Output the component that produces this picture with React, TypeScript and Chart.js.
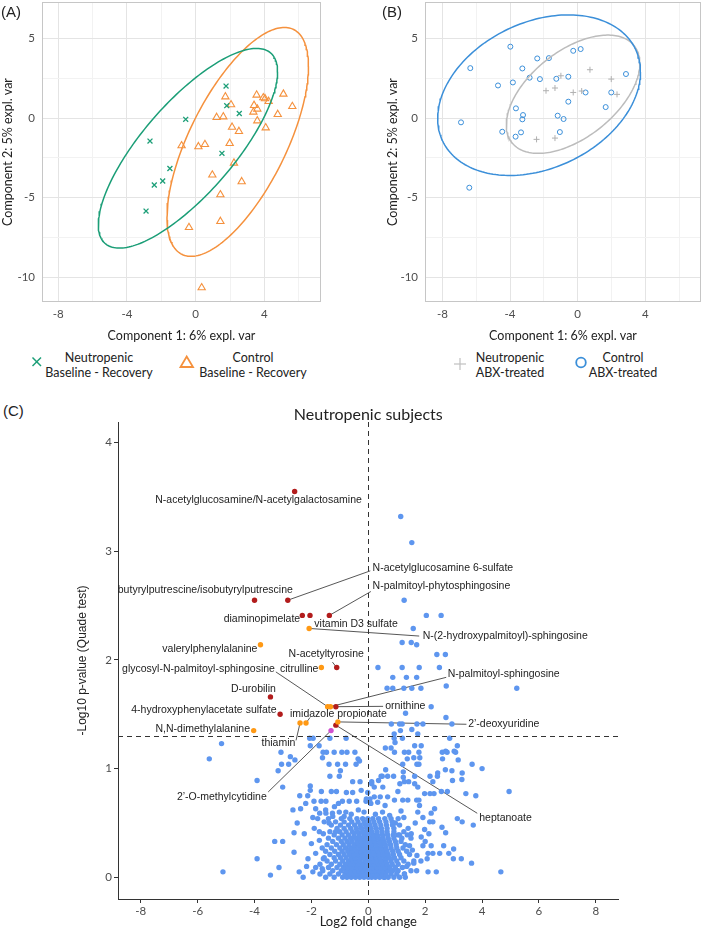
import React, { useEffect, useRef } from 'react';
import { Chart, registerables } from 'chart.js';
Chart.register(...registerables);

// ---------------- colours ----------------
const GREEN = '#1b9e77';
const ORANGE = '#f5913d';
const BLUE = '#3b8fd9';
const GREY = '#bcbcbc';
const DOT_BLUE = '#5e96ef';
const DOT_RED = '#b21c1c';
const DOT_ORANGE = '#ff9914';
const DOT_VIOLET = '#d052d0';

// ---------------- panel A (Baseline - Recovery) ----------------
const neutroBaseX = [1.77, 1.81, -0.58, 2.54, -2.66, 1.53, -1.5, -1.92, -2.41, -2.89];
const neutroBaseY = [2.01, 0.78, -0.08, 0.29, -1.45, -2.22, -3.17, -3.96, -4.21, -5.85];
const ctrlBaseX = [3.55, 5.11, 3.94, 4.04, 4.25, 1.73, 2.06, 5.63, 3.4, 3.59, 3.36, 4.78, 1.22, 1.61, 3.59, 2.12, 4.08, 2.52, -0.82, 0.16, 0.54, 1.98, 2.23, 0.97, 2.68, 1.44, 1.44, -0.39, 0.35];
const ctrlBaseY = [1.45, 1.51, 1.28, 1.22, 1.05, 1.34, 0.84, 0.73, 0.8, 0.57, 0.38, 0.23, 0.04, 0.08, -0.17, -0.57, -0.61, -0.84, -1.74, -1.8, -1.66, -1.59, -2.83, -3.58, -4.0, -4.82, -6.5, -6.88, -10.67];
// ellipse: centre x, centre y, sd x, sd y, correlation
const ellipseNeutroBase = [-0.45, -1.9, 5.22, 6.28, 0.766];
const ellipseCtrlBase = [2.45, -1.5, 4.12, 7.2, 0.66];

// ---------------- panel B (ABX-treated) ----------------
const ctrlAbxX = [-3.98, -6.35, -2.39, -1.7, -0.26, 0.18, -3.27, -3.83, -4.71, -2.84, -2.23, -1.26, -0.55, 2.86, 0.47, 1.99, -0.55, 1.66, -3.65, -3.23, -3.27, -1.18, -0.83, -6.9, -4.46, -3.35, -3.67, -1.05, -6.41];
const ctrlAbxY = [4.49, 3.14, 3.75, 3.77, 4.23, 4.34, 3.12, 2.24, 2.05, 2.54, 2.45, 2.47, 2.6, 2.77, 1.61, 1.61, 1.03, 0.69, 0.61, 0.19, -0.08, 0.15, -0.06, -0.27, -0.86, -0.9, -1.17, -0.88, -4.38];
const neutroAbxX = [-0.99, 0.73, -1.87, -1.34, -0.26, 0.24, 1.99, 2.33, -2.43, -1.34];
const neutroAbxY = [2.66, 3.04, 1.72, 1.89, 1.61, 1.7, 2.45, 1.49, -1.34, -1.26];
const ellipseCtrlAbx = [-2.28, 1.44, 6.0, 5.05, 0.29];
const ellipseNeutroAbx = [-0.27, 1.5, 3.95, 3.72, 0.52];

const pcaXTitle = 'Component 1: 6% expl. var';
const pcaYTitle = 'Component 2: 5% expl. var';

// ---------------- panel C (volcano) ----------------
const volcanoTitleText = 'Neutropenic subjects';
const pThreshold = 0.05;

const redPoints = [[-2.59, 3.55], [-4.0, 2.55], [-2.83, 2.55], [-2.32, 2.41], [-2.05, 2.41], [-1.37, 2.41], [-1.11, 1.93], [-3.44, 1.66], [-3.1, 1.5], [-1.14, 1.57], [-1.14, 1.4]];
const orangePoints = [[-2.08, 2.29], [-3.79, 2.14], [-1.65, 1.93], [-1.43, 1.57], [-1.33, 1.57], [-4.03, 1.35], [-2.4, 1.42], [-2.19, 1.42], [-1.07, 1.43]];
const violetPoints = [[-1.31, 1.35]];

const bluePoints = [
  [1.14, 3.32], [1.53, 3.08], [1.26, 2.55], [2.04, 2.41], [2.56, 2.41], [1.58, 2.29], [1.19, 2.16], [1.51, 2.16], [1.7, 2.14], [2.41, 2.05], [2.71, 2.05],
  [0.34, 1.93], [1.19, 1.93], [1.79, 1.93], [2.5, 1.93], [0.86, 1.84], [1.34, 1.84], [1.7, 1.84], [0.66, 1.74], [0.86, 1.74], [1.25, 1.74], [1.53, 1.74],
  [1.85, 1.74], [2.74, 1.76], [5.22, 1.74], [2.21, 1.57], [1.31, 1.51], [2.73, 1.47], [0.81, 1.41], [1.1, 1.41], [1.19, 1.41], [1.71, 1.41], [1.92, 1.41],
  [2.94, 1.41], [1.13, 1.35], [1.53, 1.36], [1.74, 1.32], [0.91, 1.32], [0.91, 1.28], [1.2, 1.28], [2.86, 1.28],
  [0.94, 1.24], [1.63, 1.21], [1.86, 1.21], [3.13, 1.21], [0.6, 1.19], [0.8, 1.19], [0.92, 1.15], [1.27, 1.15], [1.42, 1.15], [1.78, 1.15], [2.6, 1.15],
  [2.77, 1.15], [3.07, 1.15], [1.37, 1.09], [1.6, 1.1], [1.81, 1.1], [2.61, 1.09], [3.16, 1.08], [1.21, 1.04], [1.71, 1.04], [1.78, 1.04], [3.65, 1.04],
  [0.61, 0.99], [1.23, 0.97], [2.71, 0.99], [2.94, 0.98], [4.0, 1.0], [3.3, 0.96], [0.49, 0.93], [0.68, 0.93], [0.89, 0.93], [1.23, 0.92], [1.63, 0.93],
  [2.17, 0.93], [2.43, 0.93], [0.36, 0.89], [1.11, 0.86], [1.27, 0.88], [1.42, 0.88], [1.63, 0.86], [2.27, 0.88], [2.96, 0.89], [0.12, 0.86], [0.21, 0.83],
  [0.51, 0.83], [1.04, 0.79], [1.74, 0.83], [1.98, 0.77], [2.17, 0.77], [2.31, 0.77], [2.57, 0.79], [2.78, 0.79], [3.43, 0.77], [3.78, 0.75], [4.95, 0.79],
  [-0.02, 0.78], [0.21, 0.74], [0.42, 0.74], [0.68, 0.74], [1.21, 0.71], [1.39, 0.71], [1.7, 0.71], [1.78, 0.71], [0.92, 0.71], [0.33, 0.69], [0.09, 0.68],
  [0.59, 0.66], [1.8, 0.66], [2.33, 0.63], [1.15, 0.61], [1.74, 0.6], [2.21, 0.59], [1.92, 0.55], [2.16, 0.51], [2.27, 0.51], [3.13, 0.54], [3.3, 0.51],
  [3.69, 0.48], [2.59, 0.46], [1.98, 0.44], [2.72, 0.41], [2.13, 0.4], [1.86, 0.37], [1.37, 0.39], [1.51, 0.4], [1.45, 0.29], [1.92, 0.29], [2.21, 0.29],
  [2.65, 0.29], [3.0, 0.26], [1.71, 0.2], [2.1, 0.22], [2.27, 0.22], [2.51, 0.22], [2.83, 0.22], [2.07, 0.17], [1.6, 0.13], [2.99, 0.17], [3.27, 0.17],
  [3.63, 0.13], [2.1, 0.05], [2.39, 0.05], [4.66, 0.05], [1.27, 0.03], [1.04, 0.06], [0.57, 0.0], [3.02, 1.16], [2.72, 1.16], [3.29, 0.9], [2.44, 0.96],
  [-5.16, 1.23], [-5.59, 1.09], [-3.91, 0.89], [-3.07, 1.15], [-2.74, 1.11], [-3.05, 1.04], [-2.8, 1.04], [-2.58, 1.08], [-3.17, 0.98], [-3.01, 0.83],
  [-2.06, 1.28], [-1.94, 1.28], [-1.35, 1.28], [-0.78, 1.28], [-2.04, 1.21], [-1.73, 1.21], [-1.59, 1.15], [-1.47, 1.15], [-1.2, 1.15], [-0.93, 1.15],
  [-0.75, 1.15], [-0.47, 1.15], [-1.61, 1.1], [-0.36, 1.09], [-1.38, 1.04], [-1.08, 1.04], [-0.8, 1.04], [-0.43, 1.04], [-0.98, 0.98], [-1.35, 0.93],
  [-1.02, 0.93], [-0.55, 0.88], [-0.29, 0.88], [-2.04, 0.84], [-2.04, 0.8], [-1.65, 0.79], [-1.3, 0.79], [-1.12, 0.79], [-0.77, 0.78], [-0.55, 0.78],
  [-2.41, 0.75], [-2.13, 0.75], [-1.91, 0.7], [-1.66, 0.7], [-1.49, 0.7], [-2.2, 0.68], [-1.19, 0.65], [-0.91, 0.7], [-0.67, 0.7], [-0.41, 0.7],
  [-0.08, 0.7], [-2.38, 0.63], [-1.85, 0.63], [-1.71, 0.59], [-1.49, 0.59], [-1.26, 0.59], [-1.02, 0.6], [-0.79, 0.6], [-1.78, 0.54], [-1.55, 0.51],
  [-2.61, 0.41], [-3.29, 0.33], [-3.01, 0.33], [-1.72, 0.42], [-1.72, 0.34], [-2.61, 0.23], [-3.91, 0.17], [-2.12, 0.17], [-1.58, 0.17], [-3.14, 0.09],
  [-2.17, 0.1], [-1.85, 0.09], [-5.11, 0.05], [-3.44, 0.02], [-2.43, 0.05], [-2.29, 0.0], [-0.31, 1.07], [-0.07, 0.72], [0.06, 0.72], [0.12, 0.88],
  [-0.6, 0.58], [-0.35, 0.62], [-0.15, 0.6], [0.25, 0.58], [0.5, 0.6], [0.75, 0.57], [-1.05, 0.68], [-0.25, 0.8], [0.45, 0.93],
  [-1.95, 0.05], [-1.7, 0.03], [-1.85, 0.22], [-1.62, 0.27], [-2.0, 0.31], [-1.9, 0.45], [-1.58, 0.4], [-1.38, 0.5], [-1.62, 0.08], [-2.25, 0.4],
  [-1.95, 0.55], [-1.5, 0.62], [-1.25, 0.56], [-2.5, 0.5], [-2.65, 0.62], [1.35, 0.1], [1.55, 0.25], [1.7, 0.06], [1.4, 0.45], [1.65, 0.5],
  [1.25, 0.55], [1.85, 0.15], [2.0, 0.33], [0.95, 0.5], [-0.85, 0.56], [1.05, 0.39], [-1.15, 0.42],
];

// dense core of non-significant metabolites, row by row
const coreRowY = [0.0, 0.03, 0.06, 0.09, 0.12, 0.15, 0.18, 0.21, 0.24, 0.27, 0.3, 0.33, 0.36, 0.39, 0.42, 0.45, 0.48, 0.51, 0.54];
const coreRowX = [
  [-1.5, -1.2, -0.9, -0.75, -0.6, -0.45, -0.3, -0.15, 0.0, 0.12, 0.25, 0.4, 0.55, 0.7, 0.9, 1.1, 1.3],
  [-1.35, -1.05, -0.82, -0.68, -0.52, -0.38, -0.22, -0.08, 0.06, 0.18, 0.32, 0.48, 0.62, 0.8, 1.0, 1.27],
  [-1.6, -1.25, -0.95, -0.78, -0.62, -0.47, -0.33, -0.2, -0.05, 0.1, 0.24, 0.38, 0.52, 0.68, 0.85, 1.04, 1.5],
  [-1.4, -1.1, -0.88, -0.72, -0.56, -0.4, -0.27, -0.12, 0.02, 0.15, 0.3, 0.45, 0.6, 0.76, 0.95, 1.2],
  [-1.7, -1.3, -1.0, -0.8, -0.64, -0.5, -0.35, -0.18, -0.04, 0.1, 0.22, 0.36, 0.5, 0.66, 0.84, 1.05, 1.4],
  [-1.45, -1.15, -0.9, -0.7, -0.55, -0.42, -0.28, -0.1, 0.05, 0.18, 0.32, 0.46, 0.62, 0.8, 1.0, 1.25, 1.6],
  [-1.55, -1.2, -0.98, -0.78, -0.6, -0.46, -0.3, -0.16, 0.0, 0.14, 0.28, 0.42, 0.58, 0.74, 0.92, 1.15],
  [-1.35, -1.05, -0.85, -0.66, -0.5, -0.36, -0.22, -0.06, 0.08, 0.22, 0.38, 0.54, 0.7, 0.88, 1.1, 1.45],
  [-1.5, -1.18, -0.92, -0.72, -0.56, -0.4, -0.25, -0.1, 0.04, 0.18, 0.34, 0.5, 0.66, 0.86, 1.05, 1.35],
  [-1.3, -1.0, -0.8, -0.62, -0.46, -0.3, -0.15, 0.0, 0.15, 0.3, 0.46, 0.62, 0.8, 1.0, 1.22],
  [-1.45, -1.12, -0.88, -0.68, -0.5, -0.34, -0.18, -0.02, 0.12, 0.28, 0.44, 0.6, 0.78, 0.98, 1.3],
  [-1.25, -0.95, -0.75, -0.58, -0.4, -0.24, -0.08, 0.08, 0.24, 0.4, 0.56, 0.74, 0.95, 1.15],
  [-1.4, -1.05, -0.82, -0.62, -0.45, -0.28, -0.12, 0.05, 0.2, 0.36, 0.52, 0.7, 0.9, 1.18, 1.5],
  [-1.2, -0.92, -0.7, -0.5, -0.32, -0.15, 0.0, 0.16, 0.32, 0.5, 0.68, 0.88, 1.1],
  [-1.35, -1.0, -0.78, -0.56, -0.38, -0.2, -0.04, 0.12, 0.3, 0.48, 0.66, 0.9, 1.25],
  [-1.1, -0.85, -0.62, -0.42, -0.24, -0.06, 0.1, 0.28, 0.46, 0.66, 0.9],
  [-1.3, -0.98, -0.7, -0.48, -0.28, -0.1, 0.06, 0.24, 0.44, 0.64, 0.85, 1.1],
  [-1.15, -0.85, -0.58, -0.36, -0.15, 0.02, 0.2, 0.4, 0.62, 0.84],
  [-1.4, -0.95, -0.65, -0.4, -0.2, -0.02, 0.16, 0.36, 0.58, 0.8, 1.05],
];

const metaboliteLabels: [string, number, number, CanvasTextAlign][] = [
  ['N-acetylglucosamine/N-acetylgalactosamine', -3.86, 3.475, 'center'],
  ['butyrylputrescine/isobutyrylputrescine', -5.73, 2.64, 'center'],
  ['N-acetylglucosamine 6-sulfate', 0.15, 2.845, 'left'],
  ['N-palmitoyl-phytosphingosine', 0.15, 2.677, 'left'],
  ['diaminopimelate', -3.74, 2.38, 'center'],
  ['vitamin D3 sulfate', -0.43, 2.327, 'center'],
  ['N-(2-hydroxypalmitoyl)-sphingosine', 1.91, 2.22, 'left'],
  ['valerylphenylalanine', -5.57, 2.098, 'center'],
  ['N-acetyltyrosine', -1.48, 2.058, 'center'],
  ['glycosyl-N-palmitoyl-sphingosine', -5.97, 1.913, 'center'],
  ['citrulline', -2.43, 1.913, 'center'],
  ['N-palmitoyl-sphingosine', 2.79, 1.874, 'left'],
  ['D-urobilin', -4.04, 1.73, 'center'],
  ['ornithine', 1.3, 1.576, 'center'],
  ['4-hydroxyphenylacetate sulfate', -5.78, 1.536, 'center'],
  ['imidazole propionate', -1.05, 1.506, 'center'],
  ['2\u2019-deoxyuridine', 3.51, 1.408, 'left'],
  ['N,N-dimethylalanine', -5.82, 1.362, 'center'],
  ['thiamin', -3.16, 1.236, 'center'],
  ['2\u2019-O-methylcytidine', -5.15, 0.739, 'center'],
  ['heptanoate', 3.9, 0.549, 'left'],
];
const labelConnectors = [
  [-2.83, 2.55, 0.07, 2.82],
  [-1.37, 2.41, 0.09, 2.63],
  [-2.08, 2.29, 1.79, 2.22],
  [-1.11, 1.93, -1.26, 1.98],
  [-1.43, 1.57, -3.25, 1.89],
  [-1.33, 1.57, 2.74, 1.84],
  [-2.19, 1.42, -2.05, 1.47],
  [-1.14, 1.57, 0.52, 1.573],
  [-2.4, 1.42, -2.54, 1.26],
  [-1.07, 1.43, 3.45, 1.408],
  [-1.31, 1.35, -3.52, 0.785],
  [-1.14, 1.4, 3.83, 0.589],
];

// ---------------- helpers ----------------
const zip = (xs: number[], ys: number[]) => xs.map((x, i) => ({ x, y: ys[i] }));
const pairs = (p: number[][]) => p.map(([x, y]) => ({ x, y }));

function ellipsePoints(p: number[]) {
  const [cx, cy, sx, sy, r] = p;
  const s = Math.sqrt(1 - r * r);
  const pts: { x: number; y: number }[] = [];
  for (let i = 0; i <= 200; i++) {
    const t = (i / 200) * Math.PI * 2;
    pts.push({ x: cx + sx * Math.cos(t), y: cy + sy * (r * Math.cos(t) + s * Math.sin(t)) });
  }
  return pts;
}

const panelBorder = {
  id: 'panelBorder',
  afterDraw(chart: any) {
    const { ctx, chartArea: a } = chart;
    ctx.save();
    ctx.strokeStyle = '#c6c6c6';
    ctx.lineWidth = 1;
    ctx.strokeRect(a.left + 0.5, a.top + 0.5, a.right - a.left - 1, a.bottom - a.top - 1);
    ctx.restore();
  },
};

const TICK_FONT = { family: 'Lato, sans-serif', size: 11.5 };
const TITLE_FONT = { family: 'Lato, sans-serif', size: 12.5 };

const fixSize = (prop: 'width' | 'height', v: number) => (s: any) => {
  s[prop] = v;
  s.paddingTop = 0; s.paddingBottom = 0; s.paddingLeft = 0; s.paddingRight = 0;
};

function ellipseDataset(params: number[], color: string) {
  return {
    type: 'line' as const,
    data: ellipsePoints(params),
    showLine: true,
    borderColor: color,
    borderWidth: 1.5,
    pointRadius: 0,
    fill: false,
    tension: 0,
  };
}

function pcaConfig(datasets: any[], xMin: number, xMax: number, yAxisWidth: number, yTitlePad: number, rightPad: number) {
  return {
    type: 'scatter' as const,
    data: { datasets },
    options: {
      animation: false as const,
      responsive: false,
      events: [],
      layout: { autoPadding: false, padding: { top: 2, right: rightPad, bottom: 1, left: 0 } },
      plugins: { legend: { display: false }, tooltip: { enabled: false } },
      scales: {
        x: {
          type: 'linear' as const,
          min: xMin,
          max: xMax,
          afterFit: fixSize('height', 41),
          ticks: {
            stepSize: 2, includeBounds: false, autoSkip: false, maxRotation: 0, padding: 5,
            color: '#4d4d4d', font: TICK_FONT,
            callback: (v: any) => (Math.abs(v % 4) < 1e-9 ? String(v) : ''),
          },
          grid: {
            drawTicks: false,
            color: (c: any) => (c.tick && Math.abs(c.tick.value % 4) < 1e-9 ? '#e4e4e4' : '#f2f2f2'),
          },
          border: { display: false },
          title: { display: true, text: pcaXTitle, color: '#222', font: TITLE_FONT, padding: 0 },
        },
        y: {
          type: 'linear' as const,
          min: -11.57,
          max: 7.3,
          afterFit: fixSize('width', yAxisWidth),
          ticks: {
            stepSize: 2.5, includeBounds: false, autoSkip: false, padding: 7,
            color: '#4d4d4d', font: TICK_FONT,
            callback: (v: any) => (Math.abs(v % 5) < 1e-9 ? String(v) : ''),
          },
          grid: {
            drawTicks: false,
            color: (c: any) => (c.tick && Math.abs(c.tick.value % 5) < 1e-9 ? '#e4e4e4' : '#f2f2f2'),
          },
          border: { display: false },
          title: { display: true, text: pcaYTitle, color: '#222', font: TITLE_FONT, padding: { top: yTitlePad, bottom: 0 } },
        },
      },
    },
    plugins: [panelBorder],
  };
}

const volcanoDecor = {
  id: 'volcanoDecor',
  beforeDatasetsDraw(chart: any) {
    const { ctx, scales } = chart;
    const xs = scales.x, ys = scales.y;
    ctx.save();
    ctx.strokeStyle = '#444';
    ctx.lineWidth = 0.9;
    labelConnectors.forEach(([px, py, lx, ly]) => {
      ctx.beginPath();
      ctx.moveTo(xs.getPixelForValue(px), ys.getPixelForValue(py));
      ctx.lineTo(xs.getPixelForValue(lx), ys.getPixelForValue(ly));
      ctx.stroke();
    });
    ctx.restore();
  },
  afterDatasetsDraw(chart: any) {
    const { ctx, scales, chartArea: a } = chart;
    const xs = scales.x, ys = scales.y;
    ctx.save();
    ctx.strokeStyle = '#333';
    ctx.lineWidth = 1;
    ctx.setLineDash([5, 4]);
    const x0 = Math.round(xs.getPixelForValue(0)) + 0.5;
    ctx.beginPath(); ctx.moveTo(x0, a.top); ctx.lineTo(x0, a.bottom); ctx.stroke();
    const yT = Math.round(ys.getPixelForValue(-Math.log10(pThreshold))) + 0.5;
    ctx.beginPath(); ctx.moveTo(a.left, yT); ctx.lineTo(a.right, yT); ctx.stroke();
    ctx.setLineDash([]);
    ctx.font = '10.5px "Liberation Sans", Arial, sans-serif';
    ctx.fillStyle = '#222';
    ctx.textBaseline = 'middle';
    metaboliteLabels.forEach(([t, lx, ly, al]) => {
      ctx.textAlign = al;
      ctx.fillText(t, xs.getPixelForValue(lx), ys.getPixelForValue(ly));
    });
    ctx.font = '16px Lato, sans-serif';
    ctx.textAlign = 'center';
    ctx.fillText(volcanoTitleText, (a.left + a.right) / 2, 20);
    ctx.restore();
  },
};

function dotSet(data: any[], color: string) {
  return { data, pointRadius: 2.7, pointBackgroundColor: color, pointBorderWidth: 0, pointBorderColor: color };
}

function volcanoConfig() {
  const core: { x: number; y: number }[] = [];
  coreRowY.forEach((y, i) => coreRowX[i].forEach((x) => core.push({ x, y })));
  return {
    type: 'scatter' as const,
    data: {
      datasets: [
        dotSet(pairs(bluePoints).concat(core), DOT_BLUE),
        dotSet(pairs(orangePoints), DOT_ORANGE),
        dotSet(pairs(redPoints), DOT_RED),
        dotSet(pairs(violetPoints), DOT_VIOLET),
      ],
    },
    options: {
      animation: false as const,
      responsive: false,
      events: [],
      layout: { autoPadding: false, padding: { top: 27, right: 57.4, bottom: 0, left: 0 } },
      plugins: { legend: { display: false }, tooltip: { enabled: false } },
      scales: {
        x: {
          type: 'linear' as const,
          min: -8.8,
          max: 8.8,
          afterFit: fixSize('height', 31),
          ticks: { stepSize: 2, includeBounds: false, autoSkip: false, maxRotation: 0, padding: 1, color: '#4d4d4d', font: TICK_FONT },
          grid: { drawOnChartArea: false, drawTicks: true, tickLength: 4, color: '#333' },
          border: { display: true, color: '#333', width: 1 },
          title: { display: true, text: 'Log2 fold change', color: '#222', font: { family: 'Lato, sans-serif', size: 13 }, padding: 0 },
        },
        y: {
          type: 'linear' as const,
          min: -0.2,
          max: 4.19,
          afterFit: fixSize('width', 58),
          ticks: { stepSize: 1, includeBounds: false, autoSkip: false, padding: 2, color: '#4d4d4d', font: TICK_FONT },
          grid: { drawOnChartArea: false, drawTicks: true, tickLength: 4, color: '#333' },
          border: { display: true, color: '#333', width: 1 },
          title: { display: true, text: '-Log10 p-value (Quade test)', color: '#222', font: { family: '"Liberation Sans", Arial, sans-serif', size: 12 }, padding: { top: 15, bottom: 0 } },
        },
      },
    },
    plugins: [volcanoDecor],
  };
}

function ChartCanvas({ make, left, top, width, height }: any) {
  const ref = useRef<HTMLCanvasElement>(null);
  useEffect(() => {
    if (!ref.current) return;
    const chart = new Chart(ref.current, make());
    return () => chart.destroy();
  }, []);
  return <canvas ref={ref} width={width} height={height} style={{ position: 'absolute', left, top, width, height }} />;
}

const textStyle: React.CSSProperties = {
  position: 'absolute',
  fontFamily: 'Lato, sans-serif',
  fontSize: 12.5,
  lineHeight: '14.6px',
  color: '#222',
  textAlign: 'center',
  whiteSpace: 'nowrap',
};

function LegendText({ cx, lines }: { cx: number; lines: string[] }) {
  return (
    <div style={{ ...textStyle, left: cx - 80, width: 160, top: 351 }}>
      {lines.map((l, i) => (<div key={i}>{l}</div>))}
    </div>
  );
}

export default function App() {
  const panelLabel: React.CSSProperties = { position: 'absolute', fontFamily: '"Liberation Sans", Arial, sans-serif', fontSize: 15, color: '#222', lineHeight: '18px' };
  return (
    <div style={{ position: 'absolute', left: 0, top: 0, width: 702, height: 930, background: '#fff', overflow: 'hidden' }}>
      <ChartCanvas
        left={0} top={0} width={351} height={344}
        make={() => pcaConfig([
          ellipseDataset(ellipseNeutroBase, GREEN),
          ellipseDataset(ellipseCtrlBase, ORANGE),
          { data: zip(neutroBaseX, neutroBaseY), pointStyle: 'crossRot', pointRadius: 3.5, pointBorderColor: GREEN, pointBorderWidth: 1.3 },
          { data: zip(ctrlBaseX, ctrlBaseY), pointStyle: 'triangle', pointRadius: 4.2, pointBorderColor: ORANGE, pointBackgroundColor: 'rgba(0,0,0,0)', pointBorderWidth: 1.1 },
        ], -8.95, 7.3, 42, 0, 30)}
      />
      <ChartCanvas
        left={351} top={0} width={351} height={344}
        make={() => pcaConfig([
          ellipseDataset(ellipseCtrlAbx, BLUE),
          ellipseDataset(ellipseNeutroAbx, GREY),
          { data: zip(neutroAbxX, neutroAbxY), pointStyle: 'cross', pointRadius: 3, pointBorderColor: '#b0b0b0', pointBorderWidth: 1 },
          { data: zip(ctrlAbxX, ctrlAbxY), pointStyle: 'circle', pointRadius: 2.5, pointBorderColor: BLUE, pointBackgroundColor: 'rgba(0,0,0,0)', pointBorderWidth: 1 },
        ], -9.03, 7.3, 74, 34, 1)}
      />
      <div style={{ ...panelLabel, left: 1, top: 3 }}>(A)</div>
      <div style={{ ...panelLabel, left: 382, top: 3 }}>(B)</div>
      <div style={{ ...panelLabel, left: 3, top: 402 }}>(C)</div>

      <svg style={{ position: 'absolute', left: 0, top: 350, overflow: 'visible' }} width={702} height={30}>
        <g stroke={GREEN} strokeWidth={1.5}>
          <line x1={32.5} y1={7.5} x2={41} y2={16} />
          <line x1={41} y1={7.5} x2={32.5} y2={16} />
        </g>
        <polygon points="180.5,17 193,17 186.7,6.5" fill="none" stroke={ORANGE} strokeWidth={1.8} />
        <g stroke="#c0c0c0" strokeWidth={1.2}>
          <line x1={454} y1={14} x2={466} y2={14} />
          <line x1={460} y1={8} x2={460} y2={20} />
        </g>
        <circle cx={581} cy={12.5} r={4.8} fill="none" stroke={BLUE} strokeWidth={1.8} />
      </svg>
      <LegendText cx={99} lines={['Neutropenic', 'Baseline - Recovery']} />
      <LegendText cx={253} lines={['Control', 'Baseline - Recovery']} />
      <LegendText cx={510} lines={['Neutropenic', 'ABX-treated']} />
      <LegendText cx={623} lines={['Control', 'ABX-treated']} />

      <ChartCanvas left={60} top={395} width={616} height={535} make={volcanoConfig} />
    </div>
  );
}
